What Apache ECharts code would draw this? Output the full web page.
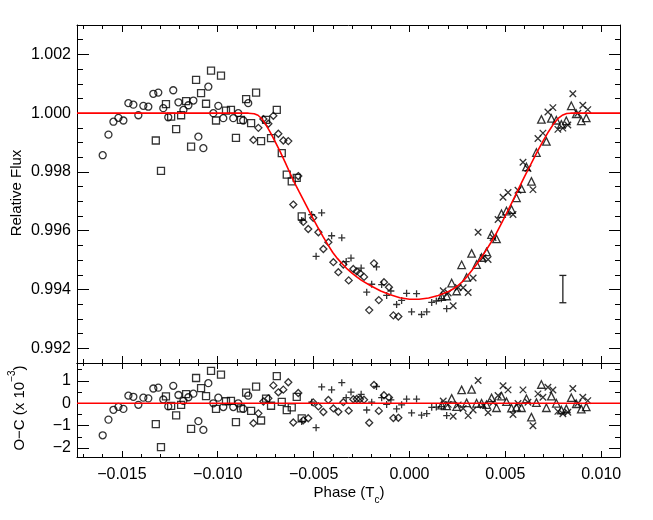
<!DOCTYPE html>
<html>
<head>
<meta charset="utf-8">
<script src="https://cdn.jsdelivr.net/npm/echarts@6/dist/echarts.min.js"></script>
<style>
html,body{margin:0;padding:0;background:#fff;}
#chart{width:653px;height:520px;}
</style>
</head>
<body>
<div id="chart"></div>
<script>
// ---------- data ----------
const xMin = -0.01734, xMax = 0.01098;

const circlePhase = [-0.01600,-0.01570,-0.01544,-0.01518,-0.01492,-0.01466,-0.01440,-0.01414,-0.01388,-0.01362,-0.01336,-0.01310,-0.01284,-0.01258,-0.01232,-0.01205,-0.01179,-0.01153,-0.01127,-0.01101,-0.01075,-0.01049,-0.01023,-0.00997,-0.00971,-0.00919,-0.00893,-0.00867,-0.00841];
const circleFlux = [0.99857,0.99927,0.99971,0.99984,0.99975,1.00034,1.00029,0.99993,1.00025,1.00022,1.00066,1.00070,1.00017,0.99986,1.00078,1.00037,1.00011,1.00027,1.00043,0.99920,0.99881,1.00090,1.00000,1.00025,0.99983,0.99983,1.00000,0.99975,1.00034];
const circleOC = [-1.43,-0.73,-0.29,-0.16,-0.25,0.34,0.29,-0.07,0.25,0.22,0.66,0.70,0.17,-0.14,0.78,0.37,0.11,0.27,0.43,-0.80,-1.19,0.90,0.00,0.25,-0.17,-0.17,0.00,-0.25,0.34];

const squarePhase = [-0.01323,-0.01296,-0.01270,-0.01243,-0.01217,-0.01191,-0.01165,-0.01139,-0.01113,-0.01087,-0.01061,-0.01035,-0.01009,-0.00983,-0.00957,-0.00931,-0.00905,-0.00879,-0.00852,-0.00826,-0.00800,-0.00774,-0.00748,-0.00722,-0.00692,-0.00666,-0.00640,-0.00614,-0.00588,-0.00562];
const squareFlux = [0.99907,0.99804,1.00031,0.99988,0.99946,0.99993,1.00041,0.99886,1.00113,1.00068,1.00032,1.00145,0.99975,1.00128,1.00009,1.00011,0.99916,0.99977,1.00048,0.99966,1.00070,0.99905,0.99977,0.99915,1.00011,0.99864,0.99791,0.99768,0.99780,0.99649];
const squareOC = [-0.93,-1.96,0.31,-0.12,-0.54,-0.07,0.41,-1.14,1.13,0.68,0.32,1.45,-0.25,1.28,0.09,0.11,-0.84,-0.23,0.48,-0.34,0.74,-0.77,0.21,-0.11,1.21,0.06,-0.31,-0.18,0.29,-0.67];

const diamondPhase = [-0.00814,-0.00788,-0.00762,-0.00736,-0.00710,-0.00684,-0.00658,-0.00632,-0.00606,-0.00580,-0.00554,-0.00528,-0.00502,-0.00475,-0.00449,-0.00423,-0.00397,-0.00371,-0.00345,-0.00317,-0.00293,-0.00275,-0.00258,-0.00237,-0.00210,-0.00185,-0.00160,-0.00133,-0.00107,-0.00084,-0.00058];
const diamondFlux = [0.99909,0.99950,0.99980,0.99964,0.99991,0.99930,0.99907,0.99905,0.99689,0.99786,0.99630,0.99606,0.99644,0.99595,0.99538,0.99561,0.99493,0.99459,0.99485,0.99431,0.99470,0.99462,0.99455,0.99443,0.99330,0.99489,0.99364,0.99425,0.99408,0.99312,0.99308];
const diamondOC = [-0.89,-0.45,0.08,0.22,0.80,0.49,0.61,0.94,-0.86,0.46,-0.76,-0.67,0.04,-0.14,-0.39,0.15,-0.23,-0.38,0.05,-0.33,0.18,0.19,0.19,0.16,-0.87,0.82,-0.34,0.36,0.26,-0.66,-0.65];

const plusPhase = [-0.00562,-0.00510,-0.00487,-0.00458,-0.00406,-0.00353,-0.00330,-0.00305,-0.00252,-0.00223,-0.00197,-0.00172,-0.00145,-0.00119,-0.00097,-0.00067,-0.00041,-0.00015,0.00011,0.00037,0.00063,0.00090,0.00116,0.00140,0.00166,0.00194];
const plusFlux = [0.99635,0.99655,0.99513,0.99661,0.99583,0.99576,0.99495,0.99507,0.99473,0.99391,0.99418,0.99477,0.99417,0.99380,0.99395,0.99349,0.99363,0.99387,0.99324,0.99386,0.99315,0.99324,0.99356,0.99361,0.99369,0.99335];
const plusOC = [-0.81,0.05,-1.09,0.73,0.60,0.92,0.25,0.50,0.40,-0.30,0.05,0.75,0.25,-0.05,0.15,-0.25,-0.07,0.19,-0.43,0.19,-0.53,-0.46,-0.18,-0.17,-0.15,-0.55];

const triPhase = [0.00168,0.00194,0.00220,0.00246,0.00272,0.00298,0.00324,0.00350,0.00376,0.00402,0.00428,0.00454,0.00480,0.00506,0.00532,0.00558,0.00584,0.00610,0.00636,0.00662,0.00688,0.00714,0.00740,0.00766,0.00792,0.00818,0.00844,0.00870,0.00896,0.00922];
const triFlux = [0.99376,0.99378,0.99422,0.99395,0.99484,0.99441,0.99523,0.99485,0.99509,0.99528,0.99587,0.99572,0.99658,0.99667,0.99672,0.99712,0.99743,0.99817,0.99768,0.99866,0.99979,0.99904,0.99982,0.99976,0.99962,0.99974,1.00025,0.99998,0.99974,0.99984];
const triOC = [-0.08,-0.12,0.22,-0.15,0.60,0.02,0.62,0.00,0.00,-0.06,0.24,-0.20,0.32,0.07,-0.22,-0.17,-0.20,0.20,-0.62,0.03,0.84,-0.20,0.32,0.00,-0.30,-0.25,0.25,-0.02,-0.26,-0.16];

const crossPhase = [0.00176,0.00202,0.00228,0.00254,0.00280,0.00306,0.00332,0.00358,0.00384,0.00410,0.00436,0.00462,0.00488,0.00514,0.00540,0.00566,0.00592,0.00618,0.00644,0.00670,0.00696,0.00722,0.00748,0.00774,0.00800,0.00826,0.00852,0.00878,0.00904,0.00930];
const crossFlux = [0.99396,0.99388,0.99345,0.99407,0.99406,0.99390,0.99439,0.99595,0.99508,0.99502,0.99577,0.99638,0.99714,0.99730,0.99655,0.99738,0.99833,0.99812,0.99740,0.99914,0.99932,1.00004,1.00019,0.99945,0.99949,0.99960,1.00066,1.00000,1.00027,1.00012];
const crossOC = [0.10,-0.05,-0.58,-0.07,-0.23,-0.55,-0.30,1.02,-0.09,-0.41,0.05,0.35,0.78,0.60,-0.50,-0.01,0.60,0.05,-1.00,0.42,0.27,0.72,0.59,-0.36,-0.47,-0.40,0.66,0.00,0.27,0.12];

// model light curve
const modelPhase = [-0.01734,-0.0084,-0.0081,-0.0079,-0.0077,-0.0075,-0.00725,-0.0070,-0.00675,-0.0065,-0.00625,-0.0060,-0.00575,-0.0055,-0.00525,-0.0050,-0.00475,-0.0045,-0.00425,-0.0040,-0.00375,-0.0035,-0.00325,-0.0030,-0.00275,-0.0025,-0.0020,-0.0015,-0.0010,-0.0005,0,0.0005,0.0010,0.0015,0.0020,0.00225,0.0025,0.00275,0.0030,0.00325,0.0035,0.00375,0.0040,0.00425,0.0045,0.00475,0.0050,0.00525,0.0055,0.00575,0.0060,0.00625,0.0065,0.00675,0.0070,0.00725,0.0075,0.00775,0.0080,0.0082,0.0084,0.01098];
const modelFlux = [1.0,1.0,0.99998,0.99993,0.99981,0.99962,0.99934,0.99902,0.99870,0.99835,0.99799,0.99764,0.99732,0.99701,0.99669,0.99638,0.99608,0.99579,0.99552,0.99526,0.99505,0.99487,0.99470,0.99456,0.99443,0.99431,0.99412,0.99395,0.99382,0.99372,0.99367,0.99367,0.99371,0.99380,0.99392,0.99401,0.99412,0.99426,0.99444,0.99465,0.99486,0.99509,0.99534,0.99560,0.99588,0.99619,0.99651,0.99684,0.99717,0.99751,0.99784,0.99816,0.99848,0.99879,0.99909,0.99937,0.99962,0.99982,0.99994,0.99999,1.0,1.0];

const zeroPhase = [-0.01734, 0.01098];
const zeroOC = [0, 0];

const errPhase = [0.0080];
const errLow = [0.99355];
const errHigh = [0.99448];

const fluxTickLabels = ['0.992','0.994','0.996','0.998','1.000','1.002'];
const phaseTickLabels = ['\u22120.015','\u22120.010','\u22120.005','0.000','0.005','0.010'];
const ocTickLabels = ['\u22122','\u22121','0','1'];

// ---------- build chart ----------
const FONT = 'Liberation Sans, Arial, Helvetica, sans-serif';
const zip = (a, b) => a.map((v, i) => [v, b[i]]);
function labelFrom(list, values) {
  return function (v) {
    for (let i = 0; i < values.length; i++) if (Math.abs(v - values[i]) < 1e-9) return list[i];
    return '';
  };
}

function xAx(gridIndex, position, showLabel, tickLen, minorLen) {
  return {
    type: 'value', gridIndex, position, min: xMin, max: xMax,
    splitNumber: 6, minInterval: 0.005, maxInterval: 0.005,
    axisLine: { show: true, onZero: false, lineStyle: { color: '#000', width: 1 } },
    axisTick: { show: true, inside: true, length: tickLen, lineStyle: { color: '#000', width: 1 } },
    minorTick: { show: true, splitNumber: 5, length: minorLen, lineStyle: { color: '#000', width: 1 } },
    splitLine: { show: false }, minorSplitLine: { show: false },
    axisLabel: {
      show: showLabel, showMinLabel: false, showMaxLabel: false, margin: 10,
      color: '#000', fontFamily: FONT, fontSize: 16,
      formatter: labelFrom(phaseTickLabels, [-0.015, -0.010, -0.005, 0, 0.005, 0.010])
    }
  };
}
function yAx(gridIndex, position, showLabel, min, max, step, split, minorSplit, tickLen, minorLen, labels, vals) {
  return {
    type: 'value', gridIndex, position, min, max,
    splitNumber: split, minInterval: step, maxInterval: step,
    axisLine: { show: true, onZero: false, lineStyle: { color: '#000', width: 1 } },
    axisTick: { show: true, inside: true, length: tickLen, lineStyle: { color: '#000', width: 1 } },
    minorTick: { show: true, splitNumber: minorSplit, length: minorLen, lineStyle: { color: '#000', width: 1 } },
    splitLine: { show: false }, minorSplitLine: { show: false },
    axisLabel: {
      show: showLabel, showMinLabel: false, showMaxLabel: false, margin: 6,
      color: '#000', fontFamily: FONT, fontSize: 16,
      formatter: labelFrom(labels, vals)
    }
  };
}

const hollow = { color: 'rgba(0,0,0,0)', borderColor: '#000', borderWidth: 1.3 };
const PLUS = 'path://M5,0L5,10M0,5L10,5';
const CROSS = 'path://M0,0L10,10M0,10L10,0';

function sc(name, xi, yi, data, symbol, size) {
  return {
    name, type: 'scatter', xAxisIndex: xi, yAxisIndex: yi, data,
    symbol, symbolSize: size, itemStyle: hollow, silent: true, z: 3
  };
}

const symbolsDef = [
  ['circles', circlePhase, circleFlux, circleOC, 'circle', 7],
  ['squares', squarePhase, squareFlux, squareOC, 'rect', 7],
  ['diamonds', diamondPhase, diamondFlux, diamondOC, 'diamond', 7],
  ['plus', plusPhase, plusFlux, plusOC, PLUS, 7],
  ['triangles', triPhase, triFlux, triOC, 'triangle', 7.5],
  ['crosses', crossPhase, crossFlux, crossOC, CROSS, 6.5]
];

const series = [];
symbolsDef.forEach(d => {
  series.push(sc(d[0], 0, 0, zip(d[1], d[2]), d[4], d[5]));
  series.push(sc(d[0] + ' O-C', 2, 2, zip(d[1], d[3]), d[4], d[5]));
});
series.push({
  name: 'model', type: 'line', xAxisIndex: 0, yAxisIndex: 0,
  data: zip(modelPhase, modelFlux), showSymbol: false, symbol: 'none', smooth: false,
  lineStyle: { color: '#ff0000', width: 1.6 }, silent: true, z: 5
});
series.push({
  name: 'zero', type: 'line', xAxisIndex: 2, yAxisIndex: 2,
  data: zip(zeroPhase, zeroOC), showSymbol: false, symbol: 'none',
  lineStyle: { color: '#ff0000', width: 1.6 }, silent: true, z: 5
});
series.push({
  name: 'error bar', type: 'custom', xAxisIndex: 0, yAxisIndex: 0,
  data: errPhase.map((p, i) => [p, errLow[i], errHigh[i]]),
  encode: { x: 0, y: [1, 2] }, silent: true, z: 4,
  renderItem: function (params, api) {
    const x = api.value(0);
    const a = api.coord([x, api.value(1)]);
    const b = api.coord([x, api.value(2)]);
    const w = 3.5;
    const st = { stroke: '#222', lineWidth: 1.3 };
    return {
      type: 'group', children: [
        { type: 'line', shape: { x1: a[0], y1: a[1], x2: b[0], y2: b[1] }, style: st },
        { type: 'line', shape: { x1: a[0] - w, y1: a[1], x2: a[0] + w, y2: a[1] }, style: st },
        { type: 'line', shape: { x1: b[0] - w, y1: b[1], x2: b[0] + w, y2: b[1] }, style: st }
      ]
    };
  }
});

const option = {
  animation: false,
  backgroundColor: '#fff',
  grid: [
    { left: 77, top: 25, width: 543, height: 338, containLabel: false },
    { left: 77, top: 363, width: 543, height: 94, containLabel: false }
  ],
  xAxis: [
    xAx(0, 'bottom', false, 7, 4),
    xAx(0, 'top', false, 7, 4),
    xAx(1, 'bottom', true, 6, 3),
    xAx(1, 'top', false, 6, 3)
  ],
  yAxis: [
    yAx(0, 'left', true, 0.9915, 1.003, 0.002, 6, 4, 12, 6, fluxTickLabels, [0.992, 0.994, 0.996, 0.998, 1.000, 1.002]),
    yAx(0, 'right', false, 0.9915, 1.003, 0.002, 6, 4, 11, 5, fluxTickLabels, [0.992, 0.994, 0.996, 0.998, 1.000, 1.002]),
    yAx(1, 'left', true, -2.4, 1.8, 1, 4, 2, 12, 5, ocTickLabels, [-2, -1, 0, 1]),
    yAx(1, 'right', false, -2.4, 1.8, 1, 4, 2, 11, 5, ocTickLabels, [-2, -1, 0, 1])
  ],
  series,
  graphic: [
    {
      type: 'text', x: 17, y: 193, rotation: Math.PI / 2, silent: true,
      style: { text: 'Relative Flux', font: '15px ' + FONT, fill: '#000', align: 'center', verticalAlign: 'middle' }
    },
    {
      type: 'text', x: 17, y: 408, rotation: Math.PI / 2, silent: true,
      style: {
        text: '{a|O\u2212C (x 10}{s|\u22123}{a|)}', align: 'center', verticalAlign: 'middle',
        rich: {
          a: { fontFamily: FONT, fontSize: 15, fill: '#000', color: '#000', lineHeight: 20, verticalAlign: 'bottom' },
          s: { fontFamily: FONT, fontSize: 10, fill: '#000', color: '#000', lineHeight: 20, verticalAlign: 'top' }
        }
      }
    },
    {
      type: 'text', x: 349, y: 495, silent: true,
      style: {
        text: '{a|Phase (T}{s|c}{a|)}', align: 'center', verticalAlign: 'middle',
        rich: {
          a: { fontFamily: FONT, fontSize: 15, fill: '#000', color: '#000', lineHeight: 20, verticalAlign: 'top' },
          s: { fontFamily: FONT, fontSize: 10, fill: '#000', color: '#000', lineHeight: 20, verticalAlign: 'bottom' }
        }
      }
    }
  ]
};

const chart = echarts.init(document.getElementById('chart'), null, { renderer: 'canvas' });
chart.setOption(option);
</script>
</body>
</html>
